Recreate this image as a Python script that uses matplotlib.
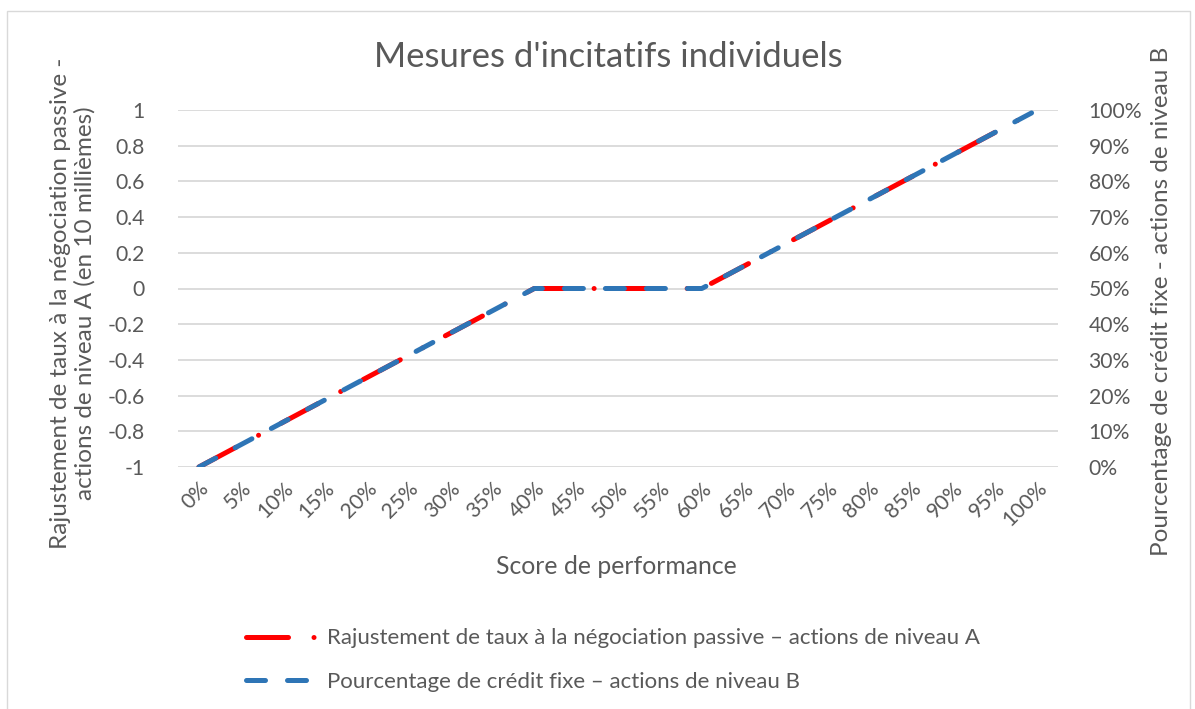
import matplotlib.pyplot as plt
from matplotlib.patches import Rectangle

plt.rcParams["font.family"] = ["Lato", "DejaVu Sans"]

scores = ["0%", "5%", "10%", "15%", "20%", "25%", "30%", "35%", "40%", "45%", "50%",
          "55%", "60%", "65%", "70%", "75%", "80%", "85%", "90%", "95%", "100%"]
rate_adj = [-1.0, -0.875, -0.75, -0.625, -0.5, -0.375, -0.25, -0.125, 0.0, 0.0, 0.0,
            0.0, 0.0, 0.125, 0.25, 0.375, 0.5, 0.625, 0.75, 0.875, 1.0]
credit_pct = [0.0, 6.25, 12.5, 18.75, 25.0, 31.25, 37.5, 43.75, 50.0, 50.0, 50.0,
              50.0, 50.0, 56.25, 62.5, 68.75, 75.0, 81.25, 87.5, 93.75, 100.0]
left_ticks = [-1, -0.8, -0.6, -0.4, -0.2, 0, 0.2, 0.4, 0.6, 0.8, 1]
left_labels = ["-1", "-0.8", "-0.6", "-0.4", "-0.2", "0", "0.2", "0.4", "0.6", "0.8", "1"]
right_ticks = [0, 10, 20, 30, 40, 50, 60, 70, 80, 90, 100]
right_labels = [f"{t}%" for t in right_ticks]

TXT = "#595959"
GRID = "#d9d9d9"
RED = "#ff0000"
BLUE = "#2e75b6"

W, H = 1195, 709
fig = plt.figure(figsize=(W / 100, H / 100), dpi=100)
fig.patches.append(Rectangle((7 / W, -0.01), (1190 - 7) / W, 1 - 11 / H + 0.01,
                             transform=fig.transFigure, fill=False, ec=GRID, lw=1))

ax = fig.add_axes([178 / W, 1 - 467 / H, (1058 - 178) / W, (467 - 110) / H])
ax2 = ax.twinx()
x = list(range(len(scores)))

ax.plot(x, rate_adj, color=RED, lw=3.6, dashes=(8.4, 5.1, 0.01, 5.1),
        dash_capstyle="round", solid_capstyle="round",
        label="Rajustement de taux à la négociation passive – actions de niveau A")
ax2.plot(x, credit_pct, color=BLUE, lw=3.6, dashes=(3.8, 4.4),
         dash_capstyle="round", solid_capstyle="round",
         label="Pourcentage de crédit fixe – actions de niveau B")

ax.set_xlim(-0.5, len(scores) - 0.5)
ax.set_ylim(-1, 1)
ax2.set_ylim(0, 100)
ax.set_yticks(left_ticks, left_labels)
ax2.set_yticks(right_ticks, right_labels)
ax.set_xticks(x)
ax.set_xticklabels(scores, rotation=45, ha="right", va="top", rotation_mode="anchor")

for a in (ax, ax2):
    for s in a.spines.values():
        s.set_visible(False)
    a.tick_params(length=0, colors=TXT, labelsize=15.2)
ax.tick_params(axis="y", pad=24)
ax2.tick_params(axis="y", pad=22)
ax.tick_params(axis="x", pad=8)
ax.grid(axis="y", color=GRID, lw=1.3)
ax.set_axisbelow(True)

fig.text(608 / W, 1 - 57 / H, "Mesures d'incitatifs individuels", ha="center", va="center",
         fontsize=25, color=TXT)
fig.text(616 / W, 1 - 567 / H, "Score de performance", ha="center", va="center",
         fontsize=17.8, color=TXT)
fig.text(73 / W, 1 - 303 / H,
         "Rajustement de taux à la négociation passive -\nactions de niveau A (en 10 millièmes)",
         ha="center", va="center", rotation=90, fontsize=17.5, color=TXT, linespacing=1.15)
fig.text(1161 / W, 1 - 301 / H, "Pourcentage de crédit fixe - actions de niveau B",
         ha="center", va="center", rotation=90, fontsize=17.5, color=TXT)

h1, l1 = ax.get_legend_handles_labels()
h2, l2 = ax2.get_legend_handles_labels()
fig.legend(h1 + h2, l1 + l2, loc="center left", bbox_to_anchor=(226 / W, 1 - 660 / H),
           frameon=False, fontsize=16, labelcolor=TXT, handlelength=3.3,
           labelspacing=1.05, handletextpad=0.35)

fig.savefig("out.png", dpi=100)
